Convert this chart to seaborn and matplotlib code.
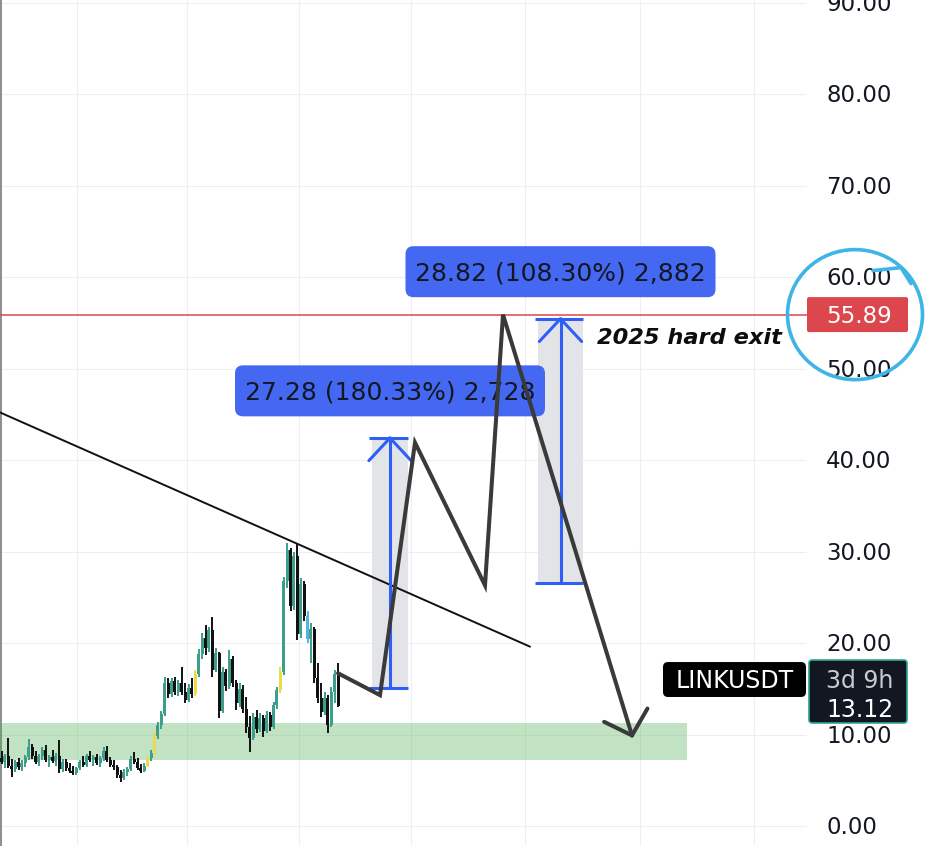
import numpy as np
import pandas as pd
import matplotlib
matplotlib.use("Agg")
import matplotlib.pyplot as plt
from matplotlib.patches import FancyBboxPatch, Rectangle, Ellipse
import seaborn as sns

sns.set_theme(style="white")
plt.rcParams["font.family"] = ["DejaVu Sans"]

# ---------------- LINK/USDT 3-day candles ----------------
opens = [7.4, 7.0, 7.6, 6.6, 6.2, 7.0, 6.4, 6.9, 7.5, 8.6,
         7.6, 7.0, 7.6, 8.3, 7.2, 7.5, 7.1, 7.7, 6.2, 7.0,
         6.3, 6.0, 5.8, 6.3, 7.0, 6.7, 7.6, 7.2, 7.5, 6.9,
         7.4, 8.2, 7.2, 6.7, 6.4, 5.6, 5.2, 5.9, 6.2, 7.3,
         7.0, 6.3, 6.0, 6.6, 7.4, 8.0, 9.8, 11.0, 12.2, 15.6,
         14.4, 15.8, 14.6, 15.6, 14.6, 13.8, 15.1, 14.4, 16.6, 18.8,
         20.6, 19.5, 21.4, 17.0, 18.9, 12.6, 16.8, 15.3, 18.2, 15.6,
         13.4, 15.0, 12.8, 10.8, 9.6, 11.9, 10.6, 11.8, 10.4, 12.1,
         10.8, 13.2, 14.9, 16.8, 26.8, 30.2, 24.0, 29.5, 21.0, 26.5,
         23.0, 20.4, 21.5, 16.2, 14.0, 12.5, 14.0, 11.0, 14.6, 16.6]
highs = [8.2, 7.9, 9.6, 7.3, 7.2, 7.4, 7.2, 7.8, 9.5, 9.0,
         8.2, 7.9, 8.6, 8.9, 7.8, 8.3, 8.0, 9.4, 7.3, 7.3,
         6.9, 6.6, 6.5, 7.2, 7.6, 7.9, 8.2, 7.8, 7.9, 7.7,
         8.6, 8.7, 7.5, 7.2, 6.7, 6.1, 6.2, 6.5, 7.6, 8.1,
         7.4, 6.8, 6.9, 7.7, 8.3, 10.3, 11.4, 12.6, 16.3, 16.2,
         16.2, 16.3, 16.0, 17.4, 15.6, 15.5, 16.2, 17.0, 19.3, 21.1,
         22.0, 21.8, 22.8, 19.5, 19.0, 17.4, 17.2, 19.2, 18.6, 16.0,
         15.6, 15.4, 14.1, 12.0, 12.4, 12.7, 12.3, 12.1, 12.6, 12.5,
         13.6, 15.2, 17.4, 27.2, 30.9, 30.4, 30.0, 30.9, 27.1, 26.8,
         23.5, 22.2, 21.8, 17.8, 15.6, 14.6, 14.3, 15.2, 17.1, 17.8]
lows = [6.8, 6.3, 6.3, 5.4, 5.9, 6.1, 6.0, 6.5, 7.2, 7.3,
        6.8, 6.6, 7.2, 7.0, 6.5, 6.9, 6.6, 5.8, 5.9, 6.0,
        5.8, 5.6, 5.6, 6.1, 6.4, 6.5, 7.0, 6.6, 6.7, 6.5,
        7.1, 7.0, 6.5, 6.1, 5.3, 4.8, 5.0, 5.5, 6.0, 6.8,
        6.1, 5.8, 5.9, 6.4, 7.1, 7.8, 9.5, 10.6, 12.0, 14.0,
        14.1, 14.3, 14.2, 14.3, 13.4, 13.5, 14.0, 14.2, 16.3, 18.2,
        18.7, 19.0, 16.3, 16.8, 11.8, 12.4, 14.8, 15.0, 15.2, 12.7,
        13.0, 12.3, 10.2, 8.1, 9.4, 10.2, 10.3, 9.7, 10.2, 10.4,
        10.6, 12.8, 14.5, 16.5, 26.0, 23.5, 23.6, 20.3, 20.5, 22.4,
        20.0, 17.8, 15.6, 13.4, 11.9, 12.1, 10.2, 10.8, 13.4, 13.0]
closes = [7.0, 7.6, 6.6, 6.2, 7.0, 6.4, 6.9, 7.5, 8.6, 7.6,
          7.0, 7.6, 8.3, 7.2, 7.5, 7.1, 7.7, 6.2, 7.0, 6.3,
          6.0, 5.8, 6.3, 7.0, 6.7, 7.6, 7.2, 7.5, 6.9, 7.4,
          8.2, 7.2, 6.7, 6.4, 5.6, 5.2, 5.9, 6.2, 7.3, 7.0,
          6.3, 6.0, 6.6, 7.4, 8.0, 9.8, 11.0, 12.2, 15.6, 14.4,
          15.8, 14.6, 15.6, 14.6, 13.8, 15.1, 14.4, 16.6, 18.8, 20.6,
          19.5, 21.4, 17.0, 18.9, 12.6, 16.8, 15.3, 18.2, 15.6, 13.4,
          15.0, 12.8, 10.8, 9.6, 11.9, 10.6, 11.8, 10.4, 12.1, 10.8,
          13.2, 14.9, 16.8, 26.8, 30.2, 24.0, 29.5, 21.0, 26.5, 23.0,
          20.4, 21.5, 16.2, 14.0, 12.5, 14.0, 11.0, 14.6, 16.6, 13.12]
# bars painted by the indicator overlay
highlight = {43: "#e6dc4c", 45: "#e6dc4c", 57: "#e6dc4c", 82: "#e6dc4c", 90: "#52b4dc"}

# ---------------- drawings ----------------
proj_t = [338, 380, 415, 485, 503, 632]
proj_p = [16.7, 14.3, 41.9, 26.3, 55.89, 9.9]

trend_t = [0, 530]
trend_p = [45.2, 19.6]

measure_t0 = [372, 538]
measure_t1 = [408, 583]
measure_low = [15.128, 26.611]
measure_high = [42.408, 55.431]

zone_t = [0, 687]
zone_p = [7.2, 11.3]

exit_price = 55.89
exit_note = "2025 hard exit"
last_price = 13.12
symbol = "LINKUSDT"
countdown = "3d 9h"

price_ticks = [0, 10, 20, 30, 40, 50, 60, 70, 80, 90]
time_grid = [77, 187, 299, 411, 525, 640, 754]

# ---------------- layout ----------------
W, H = 934, 846
PX = 9.15           # pixels per price unit
BASE = 826          # pixel row of price 0
PANE_R = 806        # right edge of the chart pane
BAR_X0, BAR_STEP = 1.5, 3.4

TEAL = "#3d9e8c"
DOWN = "#111111"
BLUE = "#2f5ff5"
LABEL_BLUE = "#4468f2"
RED = "#dc474d"
TEXT = "#131722"

fig = plt.figure(figsize=(W / 100, H / 100), dpi=100)
ax = fig.add_axes([0, 0, 1, 1])
ax.set_xlim(0, W)
ax.set_ylim(-(H - BASE) / PX, BASE / PX)
ax.axis("off")
y_lo, y_hi = ax.get_ylim()


def u(px):
    """pixel distance -> price units"""
    return px / PX


def rbox(x0, x1, y0, y1, radius, fc, ec="none", lw=0, z=6):
    patch = FancyBboxPatch((x0, y0), x1 - x0, y1 - y0,
                           boxstyle=f"round,pad=0,rounding_size={radius}",
                           mutation_aspect=1 / PX, fc=fc, ec=ec, lw=lw, zorder=z)
    ax.add_patch(patch)


def put(x, y, s, size, color, ha="left", weight="normal", style="normal", z=9):
    cap = 0.73 * size * 100 / 72 / PX
    ax.text(x, y - cap / 2, s, fontsize=size, color=color, ha=ha, va="baseline",
            fontweight=weight, fontstyle=style, zorder=z)


def arrow_arms(tail, tip, length_px, angle_deg):
    # direction in pixel space from tip back toward tail
    dx = tail[0] - tip[0]
    dy = (tail[1] - tip[1]) * PX
    n = np.hypot(dx, dy)
    dx, dy = dx / n, dy / n
    arms = []
    for s in (-1, 1):
        a = np.radians(angle_deg) * s
        rx = dx * np.cos(a) - dy * np.sin(a)
        ry = dx * np.sin(a) + dy * np.cos(a)
        arms.append(([tip[0], tip[0] + rx * length_px],
                     [tip[1], tip[1] + ry * length_px / PX]))
    return arms


# grid
for p in price_ticks:
    ax.hlines(p, 0, PANE_R, color="#eeeff1", lw=0.8, zorder=0)
for t in time_grid:
    ax.vlines(t, y_lo, y_hi, color="#eeeff1", lw=0.8, zorder=0)
ax.vlines(1, y_lo, y_hi, color="#7a7a7a", lw=1.2, zorder=1)

# support zone
ax.add_patch(Rectangle((zone_t[0], zone_p[0]), zone_t[1] - zone_t[0], zone_p[1] - zone_p[0],
                       fc="#4caf50", alpha=0.34, ec="none", zorder=1))

# candles
df = pd.DataFrame({"o": opens, "h": highs, "l": lows, "c": closes})
df["t"] = BAR_X0 + BAR_STEP * np.arange(len(df))
cols = [highlight.get(i, TEAL if c >= o else DOWN) for i, (o, c) in enumerate(zip(df.o, df.c))]
ax.vlines(df.t, df.l, df.h, colors=cols, lw=1.4, zorder=3)
body_lo = np.minimum(df.o, df.c)
body_h = np.maximum(np.abs(df.c - df.o), 0.15)
ax.bar(df.t, body_h, bottom=body_lo, width=2.9, color=cols, lw=0, zorder=3)

# measurement ranges
for t0, t1, lo, hi in zip(measure_t0, measure_t1, measure_low, measure_high):
    tc = (t0 + t1) / 2
    ax.add_patch(Rectangle((t0, lo), t1 - t0, hi - lo, fc="#e3e4e8", ec="none", zorder=2))
    ax.plot([tc, tc], [lo, hi], color=BLUE, lw=2.2, zorder=6, solid_capstyle="butt")
    ax.hlines([lo, hi], t0 - 3, t1, color=BLUE, lw=2.2, zorder=6)
    for xs, ys in arrow_arms((tc, lo), (tc, hi), 31, 43):
        ax.plot(xs, ys, color=BLUE, lw=2.2, zorder=6, solid_capstyle="round")
    diff = hi - lo
    text = f"{diff:.2f} ({diff / lo * 100:.2f}%) {round(diff * 100):,}"
    cy = hi + 5.15
    rbox(tc - 155, tc + 155, cy - u(25.5), cy + u(25.5), 8, LABEL_BLUE, z=7)
    put(tc, cy, text, 18, TEXT, ha="center", z=7.5)

# exit level
ax.hlines(exit_price, 0, PANE_R + 1, color=RED, lw=1.1, zorder=4)
put(597, exit_price - 2.3, exit_note, 16.2, "#0d0d0d", weight="bold", style="italic")

# descending trendline
sns.lineplot(x=trend_t, y=trend_p, ax=ax, color="#111111", lw=1.4, zorder=5)

# projected path
sns.lineplot(data=pd.DataFrame({"t": proj_t, "p": proj_p}), x="t", y="p", sort=False,
             estimator=None, ax=ax, color="#3a3a3a", lw=2.9, zorder=8,
             solid_joinstyle="miter", solid_capstyle="round")
for xs, ys in arrow_arms((proj_t[-2], proj_p[-2]), (proj_t[-1], proj_p[-1]), 31, 47):
    ax.plot(xs, ys, color="#3a3a3a", lw=2.9, zorder=8, solid_capstyle="round")

# price scale
for p in price_ticks:
    put(826, p, f"{p:.2f}", 16.5, TEXT, z=9)

# exit price tag
rbox(PANE_R + 1, 908, exit_price - u(17.5), exit_price + u(17.5), 2, RED, z=10)
put(826, exit_price, f"{exit_price:.2f}", 16.5, "white", z=11)

# symbol / last price tags
rbox(663, PANE_R, last_price + 0.98, last_price + 4.8, 5, "#000000", z=10)
put(734.5, last_price + 2.9, symbol, 17, "white", ha="center", z=11)
rbox(809, 907, last_price - 1.86, last_price + 5.02, 3, "#131722", ec="#2fa38f", lw=1.2, z=10)
put(826, last_price + 2.85, countdown, 17, "#c9cbd1", z=11)
put(826, last_price - 0.3, f"{last_price:.2f}", 17, "white", z=11)

# hand-drawn circle around the exit tag
ax.add_patch(Ellipse((855, exit_price), 135, u(130), fill=False, ec="#3fb5e6", lw=2.6, zorder=12))
hook_dx = [18, 46, 56]
hook_dy = [-44, -47, -31]
ax.plot([855 + d for d in hook_dx], [exit_price - u(d) for d in hook_dy],
        color="#3fb5e6", lw=2.6, zorder=12, solid_capstyle="round")

fig.savefig("out.png", dpi=100)
